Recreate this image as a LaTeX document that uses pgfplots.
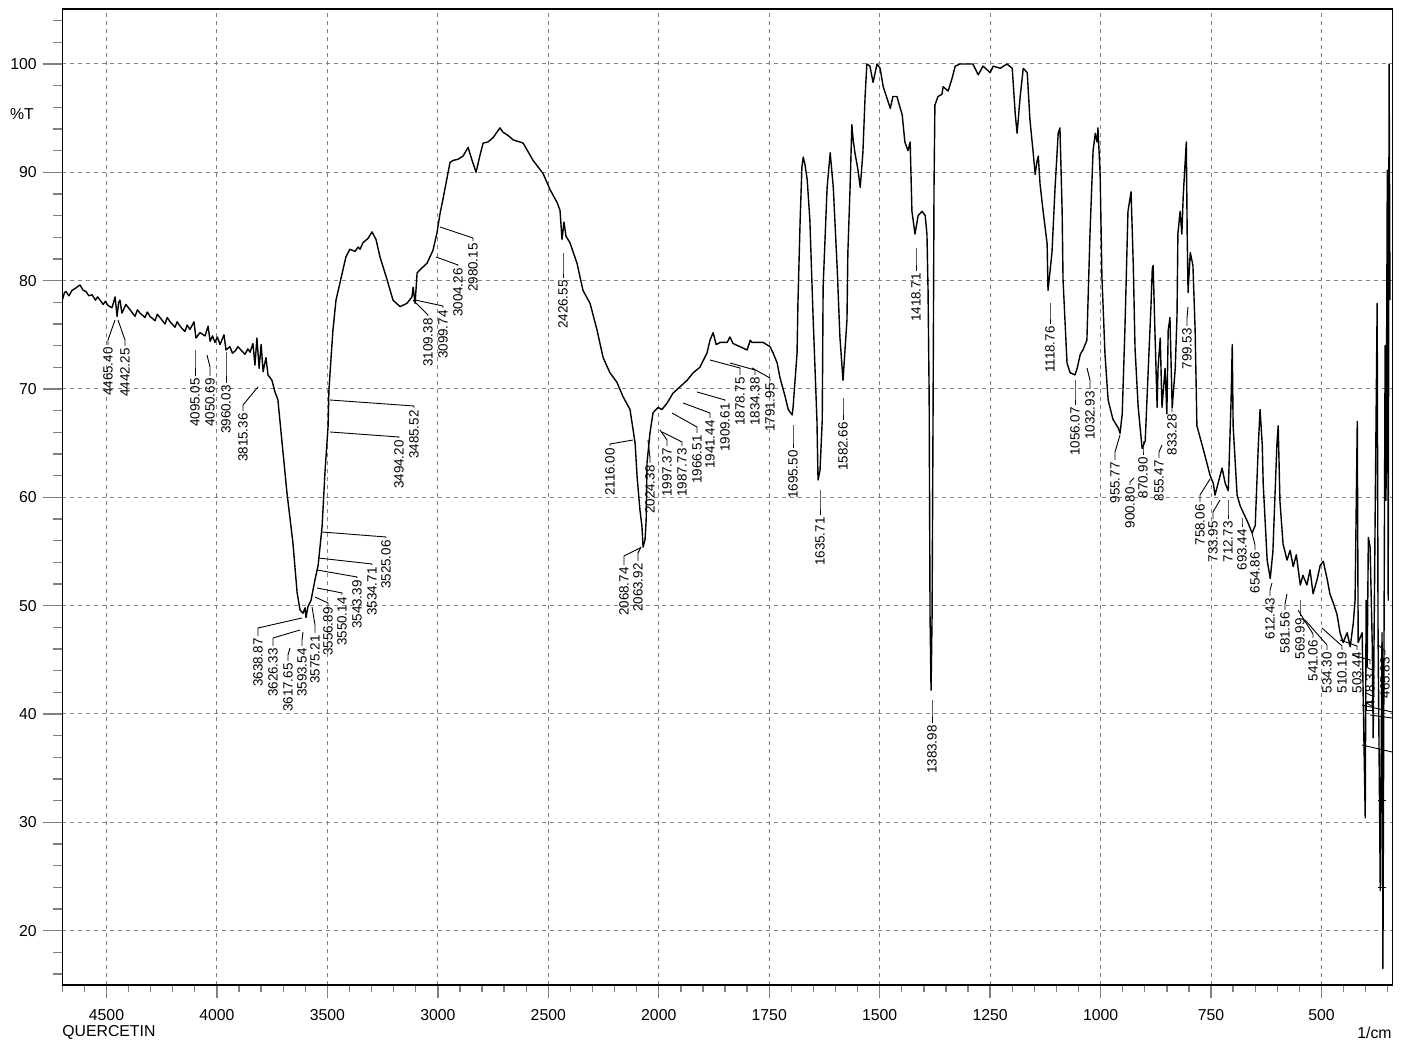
\documentclass[border=0pt]{standalone}
\usepackage{pgfplots}
\pgfplotsset{compat=1.18}
\usepackage{fontspec}
\setmainfont{Liberation Sans}
\definecolor{gridc}{RGB}{128,128,128}
\tikzset{
 pxs/.style={x=0.5pt,y=-0.5pt,shift={(-31.15pt,492.5pt)}},
 pk/.style={rotate=90,anchor=east,inner sep=0pt,font=\fontsize{6.7}{7}\selectfont},
 ld/.style={line width=0.45pt},
}
\newcommand{\PK}[6]{\draw[ld] (#4,#5) -- (#1,#6) -- (#1,#2-2); \node[pk] at (#1,#2) {#3};}
\begin{document}
\begin{tikzpicture}
\path[pxs, use as bounding box] (0,0) rectangle (1405,1044);
\begin{axis}[at={(0,0)}, anchor=south west, scale only axis,
 width=665pt, height=487.85pt,
 xmin=0, xmax=12.041, ymin=14.98, ymax=105.05,
 axis line style={line width=0.8pt},
 tick align=outside, tick pos=left,
 xtick={0.4,1.4,2.4,3.4,4.4,5.4,6.4,7.4,8.4,9.4,10.4,11.4},
 xticklabels={4500,4000,3500,3000,2500,2000,1750,1500,1250,1000,750,500},
 minor xtick={0,0.2,...,12.05},
 ytick={20,30,...,100},
 minor ytick={16,18,...,104},
 grid=major,
 major grid style={gridc, dash pattern=on 2pt off 2pt, line width=0.5pt},
 major x tick style={line width=0.65pt,/pgfplots/major tick length=6.5pt},
 minor x tick style={line width=0.65pt,/pgfplots/minor tick length=3.5pt},
 major y tick style={line width=0.65pt,/pgfplots/major tick length=9.75pt},
 minor y tick style={line width=0.65pt,/pgfplots/minor tick length=4.5pt},
 ticklabel style={font=\fontsize{7.9}{9}\selectfont},
 xticklabel style={yshift=-4.5pt},
 yticklabel style={xshift=-5pt},
 /pgf/number format/assume math mode=true,
]
\addplot[black, line width=0.7pt, line join=round] table[x expr={\thisrow{w}>=2000 ? (4700-\thisrow{w})/500 : 5.4+(2000-\thisrow{w})/250}, y=T] {
w T
4700 78.2
4690 78.9
4683 79.0
4670 78.6
4656 79.1
4640 79.3
4620 79.6
4605 79.1
4593 79.0
4580 78.6
4565 78.7
4550 78.2
4540 78.5
4529 78.2
4515 77.8
4505 78.1
4493 77.7
4475 77.5
4461 78.5
4452 76.7
4445 78.0
4439 78.2
4430 77.0
4412 77.8
4393 77.3
4371 76.7
4360 77.3
4348 77.0
4326 76.6
4315 77.1
4303 76.7
4280 76.3
4270 76.9
4258 76.6
4235 76.0
4225 76.6
4212 76.2
4190 75.7
4180 76.2
4167 75.8
4145 75.3
4135 75.9
4122 75.5
4104 76.2
4095 74.7
4077 75.2
4054 74.9
4040 75.8
4031 74.4
4020 74.9
4009 74.3
3998 74.8
3986 74.1
3968 75.0
3959 73.6
3941 73.9
3930 73.3
3918 73.5
3905 73.9
3896 73.7
3873 73.2
3860 73.7
3850 73.4
3837 74.2
3828 72.2
3819 74.7
3809 71.9
3800 74.1
3791 71.6
3778 72.9
3769 71.3
3751 70.8
3737 69.7
3724 69.0
3705 65.0
3683 60.4
3656 55.8
3637 51.2
3624 49.6
3610 49.3
3601 49.8
3597 48.9
3588 49.9
3574 50.5
3556 52.4
3542 53.7
3524 57.3
3511 62.3
3497 66.5
3493 69.9
3484 72.7
3475 75.4
3461 78.2
3443 79.8
3416 82.2
3398 82.9
3375 82.7
3361 83.1
3352 82.9
3339 83.5
3316 83.9
3298 84.5
3280 83.8
3262 82.2
3230 80.1
3203 78.2
3171 77.6
3140 77.9
3117 78.5
3112 79.4
3103 77.9
3094 80.7
3081 81.0
3049 81.6
3022 82.8
3004 84.4
2990 86.2
2977 87.5
2945 90.9
2931 91.1
2909 91.2
2886 91.5
2863 92.3
2845 91.1
2827 90.0
2809 91.6
2795 92.7
2773 92.8
2750 93.2
2719 94.1
2705 93.7
2682 93.4
2660 93.0
2614 92.7
2569 91.1
2524 89.9
2492 88.4
2460 87.2
2447 86.5
2438 83.8
2429 85.4
2420 84.1
2402 83.5
2370 81.6
2343 79.1
2311 77.9
2279 75.4
2252 72.9
2221 71.5
2189 70.6
2162 69.3
2130 68.1
2116 66.2
2107 65.0
2098 61.9
2085 58.8
2076 57.3
2071 55.4
2062 56.1
2057 57.9
2053 63.2
2040 65.9
2026 67.8
2003 68.3
1993 68.1
1981 68.7
1968 69.6
1952 70.2
1936 70.8
1922 71.5
1907 72.0
1891 73.3
1884 74.5
1877 75.2
1870 74.1
1861 74.3
1845 74.3
1839 74.8
1832 74.2
1816 73.9
1800 73.6
1793 74.5
1789 74.3
1778 74.3
1764 74.3
1748 73.9
1741 73.3
1732 72.4
1726 71.1
1714 69.3
1707 68.1
1698 67.6
1696 68.3
1687 73.3
1685 77.9
1680 85.6
1676 90.5
1673 91.4
1669 90.7
1664 89.3
1658 85.6
1651 77.0
1642 67.1
1639.5 61.6
1635 62.5
1630 67.1
1628 79.4
1619 88.6
1612 91.8
1605 88.6
1596 81.0
1590 74.8
1583 70.8
1574 76.4
1572 82.6
1567 88.6
1563 94.4
1560 93.0
1556 91.8
1549 90.2
1544 88.6
1538 91.8
1533 97.0
1529 100.0
1522 99.8
1515 98.3
1506 100.0
1499 99.6
1492 97.9
1476 95.9
1470 97.0
1461 97.0
1449 95.3
1443 92.8
1436 92.0
1431 92.8
1427 86.4
1420 84.3
1413 86.0
1404 86.4
1397 86.0
1393 84.3
1390.5 79.1
1388 69.3
1386 49.0
1383.7 42.2
1381.4 49.0
1379 69.3
1377 88.6
1375 96.2
1368 97.0
1359 97.2
1356.5 97.9
1345 97.5
1336 98.7
1329 99.8
1318 100.0
1289 100.0
1277 99.0
1266 99.8
1250 99.2
1243 99.8
1227 99.6
1212 100.0
1200 99.6
1193 95.3
1189 93.6
1182 97.0
1175 99.6
1166 99.2
1160 94.9
1153 92.0
1148 89.8
1144 91.0
1141 91.5
1137 88.9
1130 86.4
1121 83.4
1119 79.1
1110 82.6
1103 88.6
1096 93.6
1092 94.1
1087 86.4
1085 80.1
1076 72.4
1069 71.5
1058 71.3
1053 71.9
1046 73.2
1040 73.6
1031 74.5
1024 84.3
1017 92.0
1012 93.6
1008 92.8
1006 94.1
1001 89.8
997 80.4
990 73.2
983 69.0
972 67.2
960 66.4
956 65.9
951 67.7
945 75.4
938 86.4
931 88.2
926 81.4
922 73.7
915 68.4
906 64.5
899 65.2
892 71.9
886 77.6
883 81.1
881 81.4
877 75.4
872 68.3
870 71.9
865 74.7
861 68.3
854 71.9
850 67.7
847 75.4
843 76.6
838 68.3
831 71.9
827 76.8
825 84.3
820 86.4
816 84.3
813 87.8
806 92.8
804 84.3
802 78.9
797 82.6
791 81.4
786 75.4
782 66.6
770 64.8
759 63.1
752 62.0
745 61.3
741 60.2
734 61.3
725 62.7
718 61.3
711 60.6
704.6 69.0
702 74.1
700 66.6
691 60.2
684 59.2
668 57.8
657 56.7
650 57.4
643 64.8
639 68.1
634 64.8
632 61.3
623 54.2
616 52.5
610 55.0
601 64.8
598 66.6
594 59.6
587 55.7
578 54.2
571 55.1
564 53.6
557 54.7
548 51.9
542 52.8
533 51.9
526 53.3
519 51.1
510 52.4
503 53.7
496 54.1
487 52.4
481 51.1
472 50.1
465 49.2
458 47.5
451 46.6
442 47.5
435 46.2
428 48.4
424 50.5
419 67.0
417 46.6
408 47.5
404 37.6
401 30.4
399 50.5
396.6 44.4
394 56.3
390 55.4
385 46.2
383 37.8
379 56.3
374 77.9
372 47.5
367 23.7
363 47.5
361 16.5
358.5 46.8
356 74.0
354 59.7
351 90.2
349 50.5
347 100.0
345 78.2
};
\end{axis}
\begin{scope}[pxs]
\node[font=\fontsize{7.9}{9}\selectfont, inner sep=0pt] at (22,114) {\%T};
\node[font=\fontsize{7.9}{9}\selectfont, anchor=west, inner sep=0pt] at (62,1032) {QUERCETIN};
\node[font=\fontsize{7.9}{9}\selectfont, anchor=east, inner sep=0pt] at (1392,1033) {1/cm};
\PK{108}{347}{4465.40}{115}{320}{340}
\PK{125}{348}{4442.25}{118}{320}{340}
\PK{195}{378}{4095.05}{195}{350}{360}
\PK{210}{378}{4050.69}{207}{355}{367}
\PK{226}{385}{3960.03}{226}{352}{370}
\PK{243}{413}{3815.36}{258}{387}{405}
\PK{258}{638}{3638.87}{302}{618}{628}
\PK{273}{648}{3626.33}{300}{630}{638}
\PK{288}{663}{3617.65}{290}{648}{655}
\PK{302}{648}{3593.54}{303}{632}{640}
\PK{315}{635}{3575.21}{312}{607}{625}
\PK{328}{607}{3556.89}{315}{597}{603}
\PK{342}{597}{3550.14}{317}{588}{593}
\PK{357}{580}{3543.39}{317}{570}{577}
\PK{372}{567}{3534.71}{318}{558}{564}
\PK{386}{540}{3525.06}{322}{532}{537}
\PK{399}{440}{3494.20}{330}{432}{437}
\PK{414}{410}{3485.52}{330}{400}{406}
\PK{428}{318}{3109.38}{413}{300}{315}
\PK{443}{310}{3099.74}{415}{300}{306}
\PK{458}{268}{3004.26}{436}{257}{265}
\PK{473}{243}{2980.15}{440}{227}{238}
\PK{563}{280}{2426.55}{563}{253}{270}
\PK{610}{448}{2116.00}{633}{440}{444}
\PK{624}{567}{2068.74}{640}{548}{556}
\PK{638}{563}{2063.92}{641}{547}{553}
\PK{650}{465}{2024.38}{648}{440}{458}
\PK{667}{448}{1997.37}{660}{430}{440}
\PK{682}{448}{1987.73}{662}{432}{442}
\PK{697}{435}{1966.51}{672}{413}{427}
\PK{710}{420}{1941.44}{683}{403}{413}
\PK{725}{403}{1909.61}{697}{392}{400}
\PK{740}{377}{1878.75}{710}{360}{368}
\PK{755}{377}{1834.38}{730}{363}{370}
\PK{770}{383}{1791.95}{752}{368}{378}
\PK{793}{450}{1695.50}{793}{425}{440}
\PK{820}{517}{1635.71}{820}{490}{505}
\PK{843}{422}{1582.66}{843}{398}{410}
\PK{916}{273}{1418.71}{916}{248}{260}
\PK{932}{725}{1383.98}{932}{700}{712}
\PK{1050}{326}{1118.76}{1050}{303}{315}
\PK{1075}{407}{1056.07}{1075}{380}{395}
\PK{1090}{391}{1032.93}{1087}{368}{380}
\PK{1115}{462}{955.77}{1120}{435}{452}
\PK{1130}{487}{900.80}{1134}{478}{482}
\PK{1143}{457}{870.90}{1143}{441}{450}
\PK{1159}{460}{855.47}{1162}{445}{452}
\PK{1172}{414}{833.28}{1173}{403}{408}
\PK{1187}{328}{799.53}{1188}{307}{318}
\PK{1200}{504}{758.06}{1210}{479}{495}
\PK{1213}{521}{733.95}{1220}{500}{512}
\PK{1228}{521}{712.73}{1228}{500}{512}
\PK{1242}{529}{693.44}{1242}{518}{522}
\PK{1255}{552}{654.86}{1252}{533}{545}
\PK{1270}{598}{612.43}{1272}{583}{590}
\PK{1285}{612}{581.56}{1287}{594}{604}
\PK{1300}{618}{569.99}{1300}{600}{610}
\PK{1313}{640}{541.06}{1298}{610}{634}
\PK{1327}{652}{534.30}{1305}{620}{645}
\PK{1342}{652}{510.19}{1322}{628}{646}
\PK{1357}{652}{503.44}{1340}{640}{646}
\PK{1370}{666}{478.37}{1352}{655}{660}
\PK{1385}{657}{465.83}{1378}{645}{651}
\draw[ld] (1362,705) -- (1392,712);
\draw[ld] (1370,715) -- (1392,718);
\draw[ld] (1362,745) -- (1392,752);
\draw[ld] (1366,702) rectangle (1372,710);
\draw[ld] (1378,800) -- (1386,800);
\draw[ld] (1378,887) -- (1386,887);
\end{scope}
\end{tikzpicture}
\end{document}
